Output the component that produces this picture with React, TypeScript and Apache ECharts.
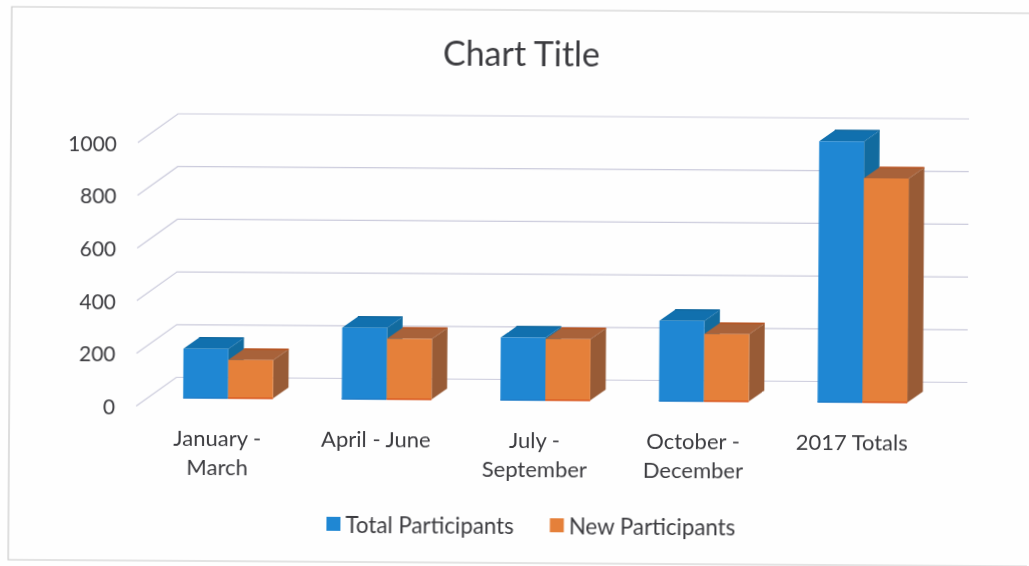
import React, { useEffect, useRef } from "react";
import * as echarts from "echarts";

const categories = ["January -\nMarch", "April - June", "July -\nSeptember", "October -\nDecember", "2017 Totals"];
const totalParticipants = [187, 270, 237, 305, 990];
const newParticipants = [145, 230, 232, 255, 850];
const yTicks = [0, 200, 400, 600, 800, 1000];

const FONT = "Lato, 'Open Sans', sans-serif";
const TEXT = "#3c3c40";
const WALL = { dx: 40, dy: -29, end: 968 };
const BAR = { offX: 10.5, offY: -8.5, depthX: 15.5, depthY: -11, frac: 0.283 };

const bluePal = { front: "#1f87d3", top: "#1170ae", side: "#126b9f", edge: "#1f7cc8", back: "#11689f" };
const orangePal = { front: "#e5803a", top: "#a8623a", side: "#985b36", edge: "#d9561f", back: "#b8521f" };

function bar3d(pal: typeof bluePal, shift: number) {
  return (_p: any, api: any) => {
    const c = api.value(0);
    const v = api.value(1);
    const base = api.coord([c, 0]);
    const top = api.coord([c, v]);
    const w = api.size([1, 0])[0] * BAR.frac;
    const x0 = base[0] + BAR.offX + (shift < 0 ? -w : 0);
    const x1 = x0 + w;
    const y0 = base[1] + BAR.offY;
    const y1 = top[1] + BAR.offY;
    const dx = BAR.depthX;
    const dy = BAR.depthY;
    const poly = (pts: number[][], fill: string) => ({ type: "polygon", shape: { points: pts }, style: { fill } });
    const line = (a: number[], b: number[], stroke: string) => ({
      type: "line",
      shape: { x1: a[0], y1: a[1], x2: b[0], y2: b[1] },
      style: { stroke, lineWidth: 1.5 },
    });
    return {
      type: "group",
      children: [
        poly([[x1, y0], [x1 + dx, y0 + dy], [x1 + dx, y1 + dy], [x1, y1]], pal.side),
        poly([[x0, y1], [x1, y1], [x1 + dx, y1 + dy], [x0 + dx, y1 + dy]], pal.top),
        poly([[x0, y0], [x1, y0], [x1, y1], [x0, y1]], pal.front),
        line([x0, y0], [x1, y0], pal.edge),
        line([x0 + dx, y1 + dy], [x1 + dx, y1 + dy], pal.back),
      ],
    };
  };
}

function gridLine(params: any, api: any) {
  const sys = params.coordSys;
  const y = api.coord([0, api.value(1)])[1];
  const x = sys.x - 2;
  return {
    type: "polyline",
    shape: { points: [[x, y], [x + WALL.dx, y + WALL.dy], [WALL.end, y + WALL.dy]] },
    style: { stroke: "#cbcbdc", lineWidth: 1.2, fill: "none" },
  };
}

export default function App() {
  const ref = useRef<HTMLDivElement>(null);
  useEffect(() => {
    document.body.style.margin = "0";
    document.body.style.overflow = "hidden";
    document.body.style.background = "#fefefe";
    const chart = echarts.init(ref.current!, undefined, { renderer: "svg" });
    chart.setOption({
      animation: false,
      backgroundColor: "#fefefe",
      title: {
        text: "Chart Title",
        left: 515,
        top: 30,
        textAlign: "center",
        textStyle: { fontFamily: FONT, fontSize: 34, fontWeight: "normal", color: TEXT },
      },
      legend: {
        data: ["Total Participants", "New Participants"],
        left: 323,
        top: 509,
        icon: "rect",
        itemWidth: 14,
        itemHeight: 14,
        itemGap: 36,
        textStyle: { fontFamily: FONT, fontSize: 22.3, color: TEXT, padding: [0, 0, 0, 0] },
      },
      grid: { left: 139, right: 97, top: 145, bottom: 157.5, containLabel: false },
      xAxis: {
        type: "category",
        data: categories,
        axisLine: { show: false },
        axisTick: { show: false },
        axisLabel: { fontFamily: FONT, fontSize: 22, color: TEXT, margin: 16, lineHeight: 29, interval: 0 },
      },
      yAxis: {
        type: "value",
        min: 0,
        max: 1000,
        interval: 200,
        axisLine: { show: false },
        axisTick: { show: false },
        splitLine: { show: false },
        axisLabel: {
          fontFamily: FONT,
          fontSize: 21,
          color: TEXT,
          margin: 23,
          formatter: (v: number) => String(v),
        },
      },
      graphic: [
        {
          type: "rect",
          silent: true,
          z: -1,
          shape: { x: 10, y: 10, width: 1040, height: 553 },
          style: { fill: "none", stroke: "#c8c8c8", lineWidth: 1.2 },
        },
      ],
      series: [
        {
          type: "custom",
          name: "grid",
          silent: true,
          clip: false,
          z: 1,
          data: yTicks.map((t) => [0, t]),
          encode: { x: 0, y: 1 },
          renderItem: gridLine,
        },
        {
          type: "custom",
          name: "Total Participants",
          clip: false,
          z: 2,
          itemStyle: { color: bluePal.front },
          data: totalParticipants.map((v, i) => [i, v]),
          encode: { x: 0, y: 1 },
          renderItem: bar3d(bluePal, -1),
        },
        {
          type: "custom",
          name: "New Participants",
          clip: false,
          z: 3,
          itemStyle: { color: orangePal.front },
          data: newParticipants.map((v, i) => [i, v]),
          encode: { x: 0, y: 1 },
          renderItem: bar3d(orangePal, 1),
        },
      ],
    });
    return () => chart.dispose();
  }, []);
  return (
    <div
      ref={ref}
      style={{
        position: "fixed",
        left: 0,
        top: 0,
        width: 1029,
        height: 566,
        transform: "rotate(0.37deg)",
        transformOrigin: "514px 283px",
      }}
    />
  );
}
